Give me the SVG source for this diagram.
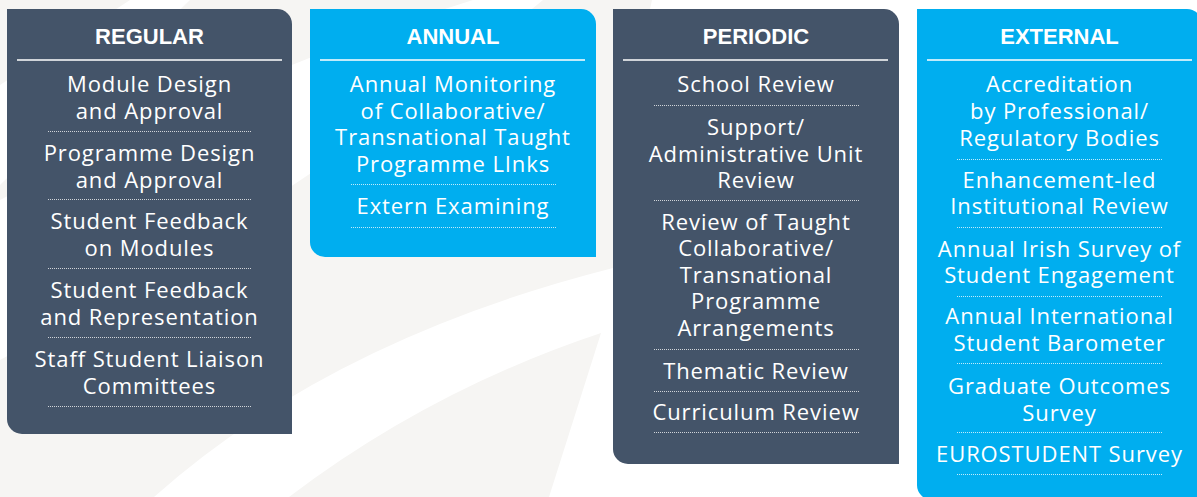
<svg xmlns="http://www.w3.org/2000/svg" width="1197" height="497" viewBox="0 0 1197 497">
<style>
.bg{fill:#f6f5f3}
.sw{fill:#ffffff}
.dark{fill:#445469}
.blue{fill:#00aeef}
.hd{font-family:"Liberation Sans",Arial,sans-serif;font-weight:bold;font-size:22px;fill:#ffffff;text-anchor:middle}
.it{font-family:"Open Sans","Liberation Sans",sans-serif;font-size:22px;fill:#ffffff;text-anchor:middle;letter-spacing:0.9px}
.hl{stroke:#ffffff;stroke-width:1.5;fill:none}
.dl{stroke:#ffffff;stroke-opacity:0.75;stroke-width:1;stroke-dasharray:1 1;fill:none}
</style>
<rect class="bg" x="0" y="0" width="1197" height="497"/>
<g id="background">
<path class="sw" d="M130,0 L190,0 L0,185 L0,85 Z"/>
<path class="sw" d="M0,200 Q250,70 473,0 L543,0 Q300,200 0,360 Z"/>
<path class="sw" d="M154,497 Q330,340 613,268 L650,9 L652,0 L1197,0 L1197,497 L549,497 L601,333 Q430,390 289,497 Z"/>
</g>
<g id="regular">
<path class="dark" d="M7,9 H277 A15,15 0 0 1 292,24 V434 H22 A15,15 0 0 1 7,419 Z"/>
<text class="hd" x="149.5" y="44">REGULAR</text>
<line class="hl" x1="17" y1="60" x2="282" y2="60"/>
<text class="it" x="149.5" y="92">Module Design</text>
<text class="it" x="149.5" y="118.5">and Approval</text>
<line class="dl" x1="48" y1="131.5" x2="252" y2="131.5"/>
<text class="it" x="149.5" y="161">Programme Design</text>
<text class="it" x="149.5" y="187.5">and Approval</text>
<line class="dl" x1="48" y1="199.5" x2="252" y2="199.5"/>
<text class="it" x="149.5" y="229">Student Feedback</text>
<text class="it" x="149.5" y="255.5">on Modules</text>
<line class="dl" x1="48" y1="268.5" x2="252" y2="268.5"/>
<text class="it" x="149.5" y="298">Student Feedback</text>
<text class="it" x="149.5" y="324.5">and Representation</text>
<line class="dl" x1="48" y1="337.5" x2="252" y2="337.5"/>
<text class="it" x="149.5" y="367">Staff Student Liaison</text>
<text class="it" x="149.5" y="393.5">Committees</text>
<line class="dl" x1="48" y1="406.5" x2="252" y2="406.5"/>
</g>
<g id="annual">
<path class="blue" d="M310,9 H581 A15,15 0 0 1 596,24 V257 H325 A15,15 0 0 1 310,242 Z"/>
<text class="hd" x="453" y="44">ANNUAL</text>
<line class="hl" x1="320" y1="60" x2="585" y2="60"/>
<text class="it" x="453" y="92">Annual Monitoring</text>
<text class="it" x="453" y="118.5">of Collaborative/</text>
<text class="it" x="453" y="145">Transnational Taught</text>
<text class="it" x="453" y="171.5">Programme LInks</text>
<line class="dl" x1="351" y1="184.5" x2="556" y2="184.5"/>
<text class="it" x="453" y="214">Extern Examining</text>
<line class="dl" x1="351" y1="227.5" x2="556" y2="227.5"/>
</g>
<g id="periodic">
<path class="dark" d="M613,9 H884 A15,15 0 0 1 899,24 V464 H628 A15,15 0 0 1 613,449 Z"/>
<text class="hd" x="756" y="44">PERIODIC</text>
<line class="hl" x1="623" y1="60" x2="888" y2="60"/>
<text class="it" x="756" y="92">School Review</text>
<line class="dl" x1="654" y1="105.5" x2="859" y2="105.5"/>
<text class="it" x="756" y="135">Support/</text>
<text class="it" x="756" y="161.5">Administrative Unit</text>
<text class="it" x="756" y="188">Review</text>
<line class="dl" x1="654" y1="200.5" x2="859" y2="200.5"/>
<text class="it" x="756" y="229.5">Review of Taught</text>
<text class="it" x="756" y="256">Collaborative/</text>
<text class="it" x="756" y="282.5">Transnational</text>
<text class="it" x="756" y="309">Programme</text>
<text class="it" x="756" y="335.5">Arrangements</text>
<line class="dl" x1="654" y1="349.5" x2="859" y2="349.5"/>
<text class="it" x="756" y="378.5">Thematic Review</text>
<line class="dl" x1="654" y1="391.5" x2="859" y2="391.5"/>
<text class="it" x="756" y="420">Curriculum Review</text>
<line class="dl" x1="654" y1="432.5" x2="859" y2="432.5"/>
</g>
<g id="external">
<path class="blue" d="M917,9 H1187 A15,15 0 0 1 1202,24 V500 H932 A15,15 0 0 1 917,485 Z"/>
<text class="hd" x="1059.5" y="44">EXTERNAL</text>
<line class="hl" x1="927" y1="60" x2="1192" y2="60"/>
<text class="it" x="1059.5" y="92">Accreditation</text>
<text class="it" x="1059.5" y="119">by Professional/</text>
<text class="it" x="1059.5" y="146">Regulatory Bodies</text>
<line class="dl" x1="957" y1="159.5" x2="1162" y2="159.5"/>
<text class="it" x="1059.5" y="187.5">Enhancement-led</text>
<text class="it" x="1059.5" y="214">Institutional Review</text>
<line class="dl" x1="957" y1="227.5" x2="1162" y2="227.5"/>
<text class="it" x="1059.5" y="256.5">Annual Irish Survey of</text>
<text class="it" x="1059.5" y="283">Student Engagement</text>
<line class="dl" x1="957" y1="296.5" x2="1162" y2="296.5"/>
<text class="it" x="1059.5" y="324">Annual International</text>
<text class="it" x="1059.5" y="350.5">Student Barometer</text>
<line class="dl" x1="957" y1="363.5" x2="1162" y2="363.5"/>
<text class="it" x="1059.5" y="394">Graduate Outcomes</text>
<text class="it" x="1059.5" y="420.5">Survey</text>
<line class="dl" x1="957" y1="432.5" x2="1162" y2="432.5"/>
<text class="it" x="1059.5" y="461.5">EUROSTUDENT Survey</text>
<line class="dl" x1="957" y1="474.5" x2="1162" y2="474.5"/>
</g>
<g id="connectors"/>
</svg>
